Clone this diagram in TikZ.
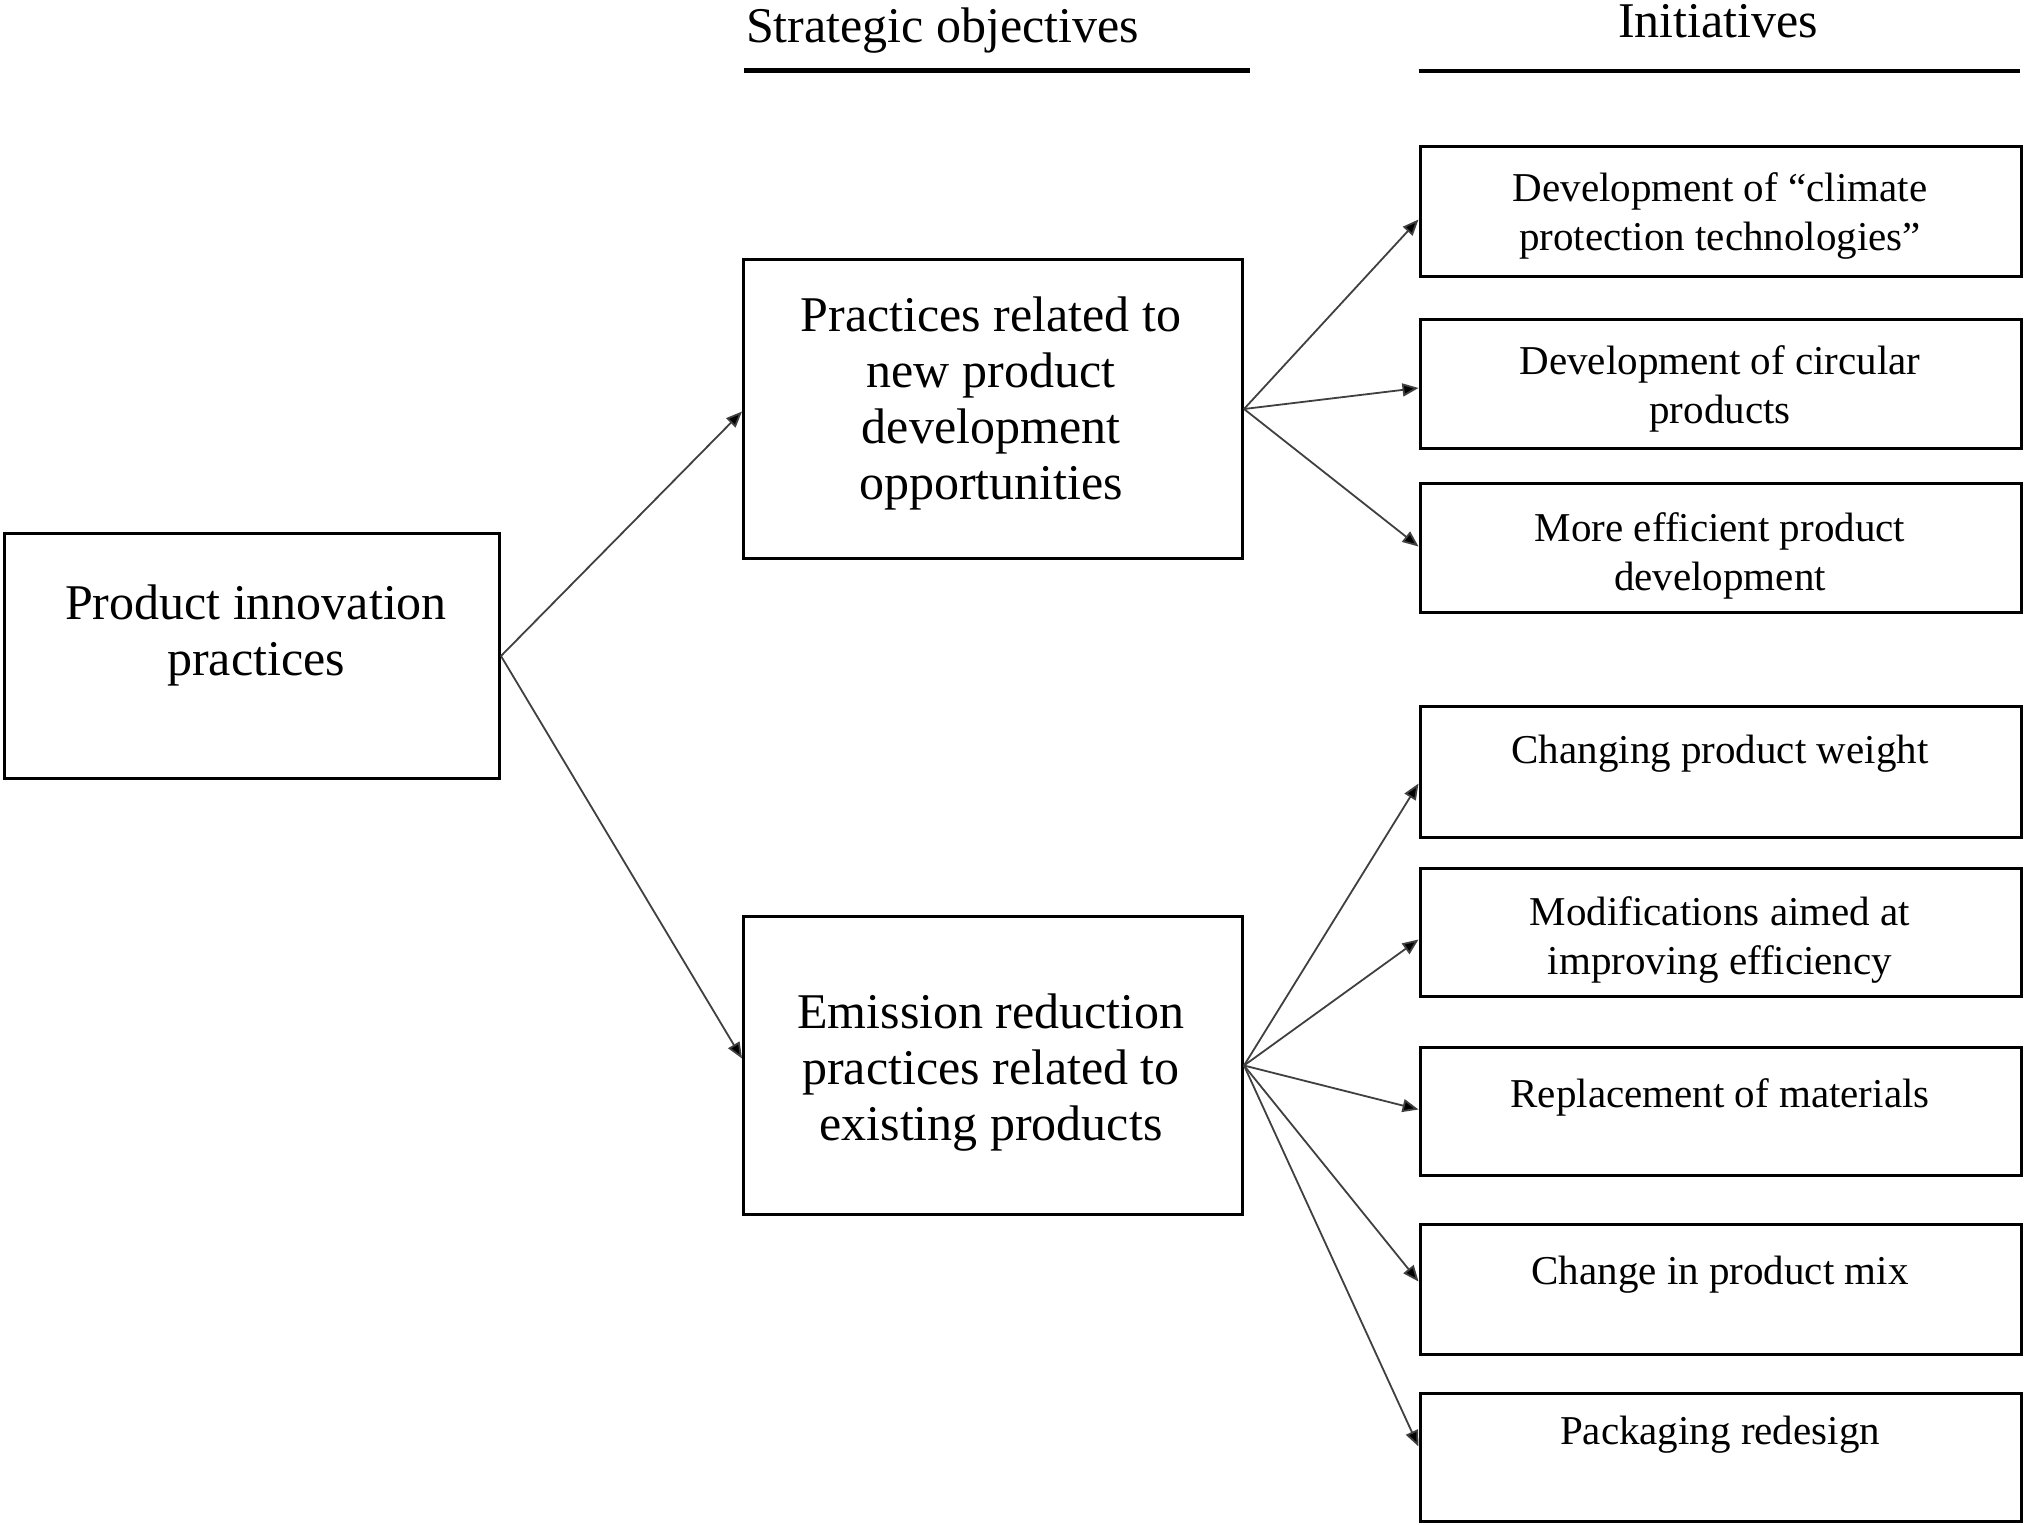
\documentclass[tikz,border=0pt]{standalone}
\usepackage{fontspec}
\setmainfont{Liberation Serif}
\usetikzlibrary{arrows.meta,calc}
\begin{document}
\begin{tikzpicture}[x=0.5pt,y=-0.5pt,
  box/.style={draw,line width=1.5pt,rectangle,inner sep=0pt,anchor=north west},
  rbox/.style={box,minimum width=300.75pt},
  mbox/.style={box,minimum width=249.5pt},
  bigtxt/.style={align=center,font=\fontsize{25pt}{28pt}\selectfont,inner sep=0pt},
  smalltxt/.style={align=center,font=\fontsize{20.5pt}{24.5pt}\selectfont,inner sep=0pt},
  head/.style={font=\fontsize{25pt}{28pt}\selectfont,inner sep=0pt,anchor=base},
  rule/.style={line width=2.4pt},
  conn/.style={line width=0.9pt,draw=black!75,-{Triangle[length=8pt,width=6.5pt,fill=black]}}]
\path[use as bounding box,fill=white] (0,0) rectangle (2025,1525);

% headers
\node[head] (hso) at (942.5,43) {Strategic objectives};
\node[head] (hin) at (1718,38) {Initiatives};
\draw[rule] (744,70.5) -- (1250,70.5);
\draw[rule] (1418.5,71) -- (2020,71);

% boxes
\node[box,minimum width=247.5pt,minimum height=122.5pt] (pip) at (3,532) {};
\node[mbox,minimum height=149.5pt] (npd) at (742,258) {};
\node[mbox,minimum height=149pt] (erp) at (742,915) {};
\node[rbox,minimum height=65pt] (b1) at (1418.5,145) {};
\node[rbox,minimum height=64.5pt] (b2) at (1418.5,318) {};
\node[rbox,minimum height=64.5pt] (b3) at (1418.5,482) {};
\node[rbox,minimum height=65.5pt] (b4) at (1418.5,705) {};
\node[rbox,minimum height=64pt] (b5) at (1418.5,867) {};
\node[rbox,minimum height=64pt] (b6) at (1418.5,1046) {};
\node[rbox,minimum height=65pt] (b7) at (1418.5,1223) {};
\node[rbox,minimum height=64pt] (b8) at (1418.5,1392) {};

% texts
\node[bigtxt] (tpip) at (256,635.5) {Product innovation\\practices};
\node[bigtxt] (tnpd) at (991,403) {Practices related to\\new product\\development\\opportunities};
\node[bigtxt] (terp) at (991,1073) {Emission reduction\\practices related to\\existing products};
\node[smalltxt] (t1) at (1720,216) {Development of “climate\\protection technologies”};
\node[smalltxt] (t2) at (1720,389) {Development of circular\\products};
\node[smalltxt] (t3) at (1720,556) {More efficient product\\development};
\node[smalltxt] (t4) at (1720,754) {Changing product weight};
\node[smalltxt] (t5) at (1720,940) {Modifications aimed at\\improving efficiency};
\node[smalltxt] (t6) at (1720,1097) {Replacement of materials};
\node[smalltxt] (t7) at (1720,1275) {Change in product mix};
\node[smalltxt] (t8) at (1720,1435) {Packaging redesign};

% connectors
\draw[conn] (pip.east) -- ($(npd.west)+(0,2.5)$);
\draw[conn] (pip.east) -- ($(erp.west)+(0,-7)$);
\draw[conn] (npd.east) -- ($(b1.west)+(0,8)$);
\draw[conn] (npd.east) -- ($(b2.west)+(0,4)$);
\draw[conn] (npd.east) -- ($(b3.west)+(0,-1.5)$);
\draw[conn] (erp.east) -- ($(b4.west)+(0,11.5)$);
\draw[conn] (erp.east) -- ($(b5.west)+(0,7)$);
\draw[conn] (erp.east) -- ($(b6.west)+(0,-2)$);
\draw[conn] (erp.east) -- ($(b7.west)+(0,-8)$);
\draw[conn] (erp.east) -- ($(b8.west)+(0,-11)$);
\end{tikzpicture}
\end{document}
